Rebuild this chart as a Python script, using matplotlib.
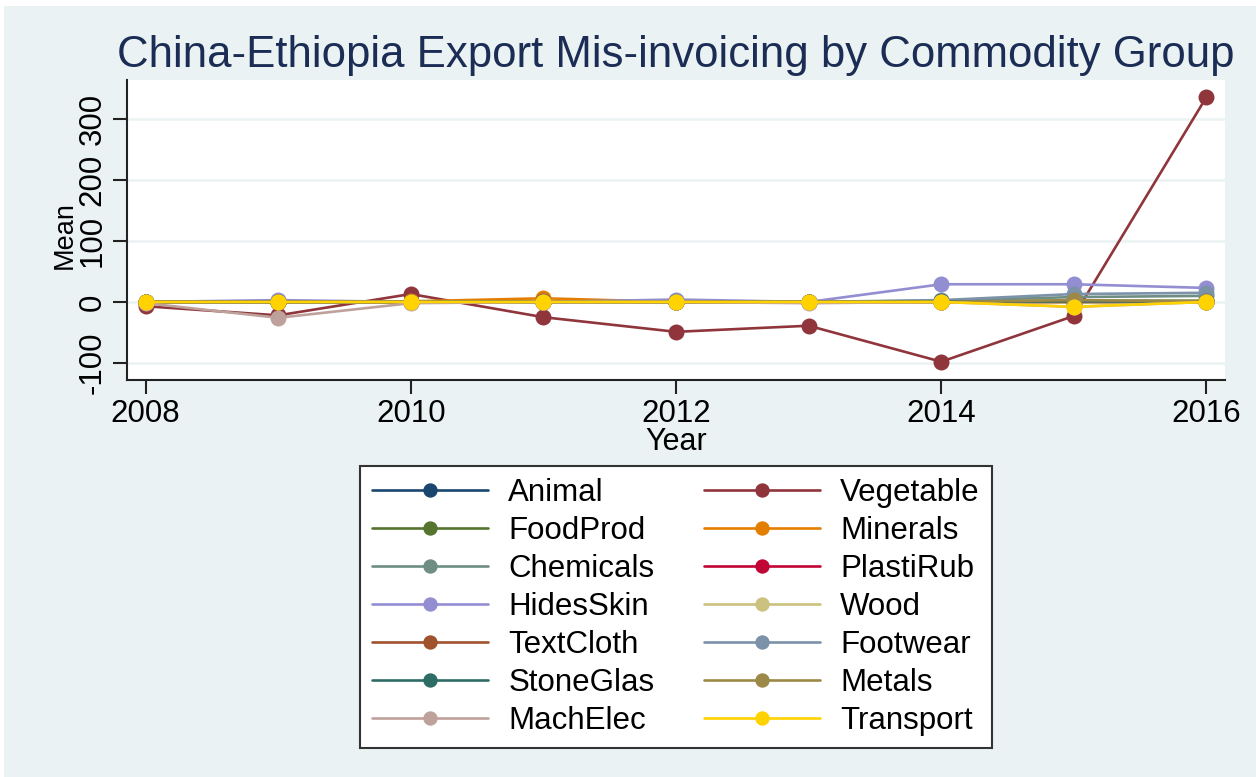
import numpy as np
import matplotlib
matplotlib.use("Agg")
import matplotlib.pyplot as plt
import matplotlib.patches as mpatches

plt.rcParams['font.family'] = ['Liberation Sans', 'DejaVu Sans']
plt.rcParams['axes.unicode_minus'] = False

# data (mean mis-invoicing by commodity group)
years = [2008, 2009, 2010, 2011, 2012, 2013, 2014, 2015, 2016]
groups = ["Animal", "Vegetable", "FoodProd", "Minerals", "Chemicals", "PlastiRub",
          "HidesSkin", "Wood", "TextCloth", "Footwear", "StoneGlas", "Metals",
          "MachElec", "Transport"]
animal    = [0, 0, 0, 0, 0, 0, 0, 0, 0]
vegetable = [-7, -22, 13, -25, -49, -39, -98, -23, 336]
foodprod  = [0, 0, 0, 1, 0, 0, 1, 2, 2]
minerals  = [0, 0, 1, 6, 0, 0, 1, 0, 1]
chemicals = [0, 0, 0, 1, 1, 0, 2, 8, 10]
plastirub = [0, 0, 0, 0, 0, 0, 0, 0, 0]
hidesskin = [0, 3, 0, 0, 4, 0, 29, 29, 23]
wood      = [0, 0, 0, 0, 0, 0, 0, 0, 0]
textcloth = [0, 0, 0, 1, 0, 0, 1, 1, 1]
footwear  = [0, 0, 0, 0, 1, 0, 3, 13, 15]
stoneglas = [0, 0, 0, 0, 0, 0, 1, 1, 1]
metals    = [0, 0, 0, 0, 0, 0, 0, 3, 1]
machelec  = [-2, -26, -2, 0, 0, -2, 0, -8, 0]
transport = [0, 0, 0, 0, 0, 0, 0, -8, 0]
series = [animal, vegetable, foodprod, minerals, chemicals, plastirub, hidesskin,
          wood, textcloth, footwear, stoneglas, metals, machelec, transport]

# stata s2color palette
colors = ["#1a476f", "#90353b", "#55752f", "#e37e00", "#6e8e84", "#c10534",
          "#938dd2", "#cac27e", "#a0522d", "#7b92a8", "#2d6d66", "#9c8847",
          "#bfa19c", "#ffd200"]

bg = "#eaf2f3"
W, H = 1256, 777
fig = plt.figure(figsize=(W/100, H/100), dpi=100, facecolor="white")
# light blue graph region (screenshot has a thin white margin top/left)
fig.patches.append(mpatches.Rectangle((4/W, 0), 1 - 4/W, 1 - 6/H,
                                      transform=fig.transFigure,
                                      facecolor=bg, edgecolor="none", zorder=-10))

ax = fig.add_axes([127/W, 1 - 380/H, (1225 - 127)/W, (380 - 80)/H])
ax.set_facecolor("white")

lines = []
for name, vals, c in zip(groups, series, colors):
    ln, = ax.plot(years, vals, color=c, lw=1.9, marker="o", ms=11.5,
                  markeredgewidth=0, label=name, solid_capstyle="round")
    lines.append(ln)

ax.set_xlim(2007.86, 2016.14)
ax.set_ylim(-128, 364)
ax.set_xticks([2008, 2010, 2012, 2014, 2016])
ax.set_yticks([-100, 0, 100, 200, 300])
ax.yaxis.grid(True, color=bg, lw=1.8)
ax.set_axisbelow(True)
for s in ["top", "right"]:
    ax.spines[s].set_visible(False)
for s in ["left", "bottom"]:
    ax.spines[s].set_color("#222222")
    ax.spines[s].set_linewidth(1.5)
ax.tick_params(axis="both", length=10, width=1.5, color="#222222",
               labelsize=22.5, pad=4)
ax.tick_params(axis="y", labelrotation=90)
for t in ax.get_yticklabels():
    t.set_va("center")

ax.set_xlabel("Year", fontsize=22, labelpad=-2)
ax.set_ylabel("Mean", fontsize=19.5)
ax.yaxis.set_label_coords(-0.045, 0.483)

fig.text(676/W, 1 - 56/H, "China-Ethiopia Export Mis-invoicing by Commodity Group",
         ha="center", va="center", fontsize=31.5, color="#1c2d55")

# legend fills row by row like stata: reorder for matplotlib's column filling
order = list(range(0, 14, 2)) + list(range(1, 14, 2))
leg = fig.legend([lines[i] for i in order], [groups[i] for i in order],
                 loc="center", bbox_to_anchor=(676/W, 1 - 607/H), ncol=2,
                 fontsize=22.5, frameon=True, fancybox=False, handlelength=3.7,
                 handletextpad=0.65, columnspacing=1.6, labelspacing=0.26,
                 borderpad=0.38, markerscale=0.9)
leg.get_frame().set_edgecolor("#333333")
leg.get_frame().set_linewidth(1.5)
leg.get_frame().set_facecolor("white")
leg.get_frame().set_alpha(1)

fig.savefig("out.png", dpi=100, facecolor=fig.get_facecolor())
